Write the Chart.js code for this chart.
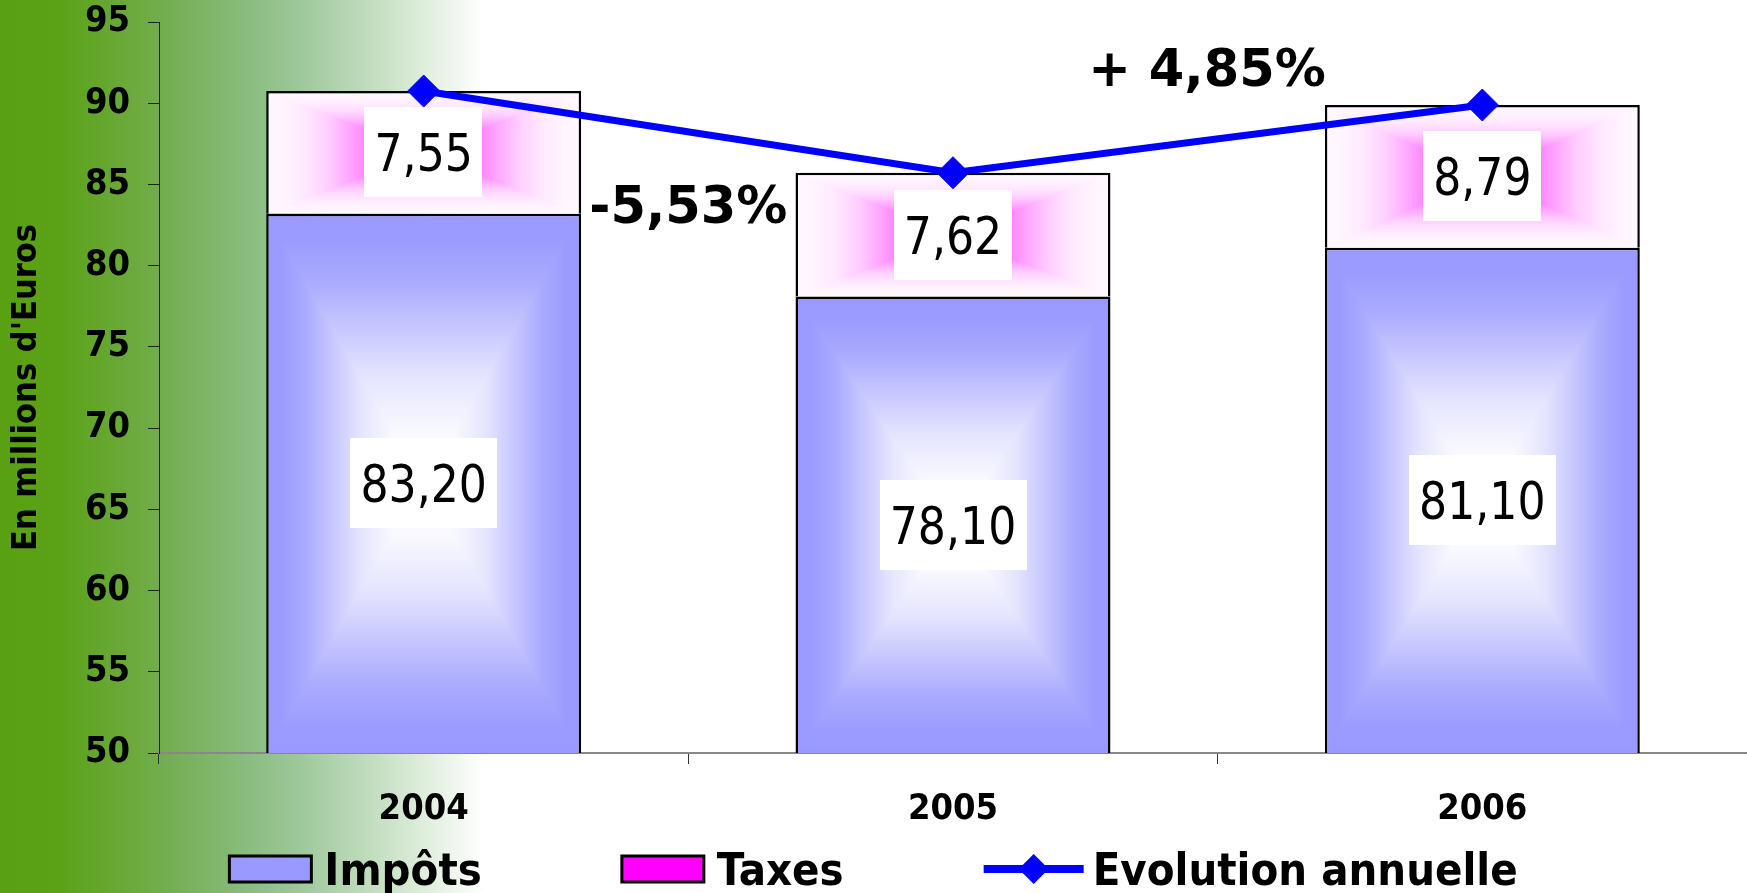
<!DOCTYPE html>
<html>
<head>
<meta charset="utf-8">
<script src="https://cdn.jsdelivr.net/npm/chart.js@4.4.1/dist/chart.umd.min.js"></script>
<style>
html, body { margin: 0; padding: 0; }
body {
    width: 1747px; height: 893px; overflow: hidden;
    background: linear-gradient(to right, #59a012 0px, #5ba217 60px, #72ad4c 160px, #8abd80 250px, #9ec89b 300px, #c6e0c3 380px, #e2f0e0 430px, #ffffff 485px);
}
</style>
</head>
<body>
<canvas id="myChart" width="1747" height="893"></canvas>
<script>
const categorias = ['2004', '2005', '2006'];
const impots = [83.20, 78.10, 81.10];
const taxes = [7.55, 7.62, 8.79];
const evolution = [90.75, 85.72, 89.89];
const yTicks = [50, 55, 60, 65, 70, 75, 80, 85, 90, 95];
const evolutionTextos = ['-5,53%', '+ 4,85%'];

const familiaCond = '"DejaVu Sans Condensed", "DejaVu Sans", sans-serif';
const familia = '"DejaVu Sans", sans-serif';
const anchoBarra = 0.595;

// degradado "desde el centro" (rectangular), paradas [t, r, g, b]
const paradasImpots = [[0, 255, 255, 255], [0.2, 248, 248, 255], [0.4, 228, 228, 255], [0.57, 200, 200, 255], [0.75, 170, 170, 255], [0.9, 155, 155, 255], [1, 153, 153, 255]];
const paradasTaxes = [[0, 255, 110, 255], [0.35, 255, 128, 255], [0.45, 255, 160, 255], [0.6, 255, 205, 255], [0.75, 255, 232, 255], [0.9, 255, 245, 255], [1, 255, 248, 255]];

function colorEn(paradas, t) {
    for (let k = 1; k < paradas.length; k++) {
        if (t <= paradas[k][0]) {
            const a = paradas[k - 1], b = paradas[k];
            const f = (t - a[0]) / (b[0] - a[0]);
            return [a[1] + (b[1] - a[1]) * f, a[2] + (b[2] - a[2]) * f, a[3] + (b[3] - a[3]) * f];
        }
    }
    const u = paradas[paradas.length - 1];
    return [u[1], u[2], u[3]];
}

function rellenoBarra(c, paradas, plano) {
    const chart = c.chart;
    const xs = chart.scales.x, ys = chart.scales.y;
    if (c.type !== 'data' || !xs || !ys || !chart.chartArea || !xs.width) return plano;
    const i = c.dataIndex;
    let desde = ys.min, hasta = impots[i];
    if (c.datasetIndex === 1) { desde = impots[i]; hasta = impots[i] + taxes[i]; }
    const cx = xs.getPixelForValue(i);
    const w = Math.max(2, Math.round(xs.width / categorias.length * anchoBarra));
    const top = ys.getPixelForValue(hasta);
    const bottom = Math.min(ys.getPixelForValue(desde), chart.chartArea.bottom);
    const h = Math.max(2, Math.round(bottom - top));
    const cv = document.createElement('canvas');
    cv.width = w; cv.height = h;
    const g = cv.getContext('2d');
    const img = g.createImageData(w, h);
    const hw = w / 2, hh = h / 2;
    for (let y = 0; y < h; y++) {
        for (let x = 0; x < w; x++) {
            const t = Math.min(1, Math.max(Math.abs(x + 0.5 - hw) / hw, Math.abs(y + 0.5 - hh) / hh));
            const col = colorEn(paradas, t);
            const p = (y * w + x) * 4;
            img.data[p] = col[0]; img.data[p + 1] = col[1]; img.data[p + 2] = col[2]; img.data[p + 3] = 255;
        }
    }
    g.putImageData(img, 0, 0);
    const pat = chart.ctx.createPattern(cv, 'repeat');
    pat.setTransform(new DOMMatrix([1, 0, 0, 1, Math.round(cx - w / 2), Math.round(top)]));
    return pat;
}

// etiquetas blancas sobre las barras
const etiquetas = {
    id: 'etiquetas',
    afterDatasetDraw(chart, args) {
        if (args.index !== 0) return;
        const ctx = chart.ctx;
        const area = chart.chartArea;
        const size = 52, comp = 0.85;
        [0, 1].forEach(d => {
            const meta = chart.getDatasetMeta(d);
            meta.data.forEach((bar, i) => {
                const p = bar.getProps(['x', 'y', 'base'], true);
                const top = Math.min(p.y, p.base);
                const bot = Math.min(Math.max(p.y, p.base), area.bottom);
                const cy = (top + bot) / 2;
                const txt = chart.data.datasets[d].data[i].toFixed(2).replace('.', ',');
                ctx.save();
                ctx.font = size + 'px ' + familia;
                const tw = ctx.measureText(txt).width * comp;
                ctx.fillStyle = '#ffffff';
                ctx.fillRect(Math.round(p.x - tw / 2 - 10), Math.round(cy - 45), Math.round(tw + 20), 90);
                ctx.translate(p.x, cy + 0.3645 * size);
                ctx.scale(comp, 1);
                ctx.fillStyle = '#000000';
                ctx.textAlign = 'center';
                ctx.textBaseline = 'alphabetic';
                ctx.fillText(txt, 0, 0);
                ctx.restore();
            });
        });
    }
};

// textos de evolución y leyenda
const extras = {
    id: 'extras',
    afterDraw(chart) {
        const ctx = chart.ctx;
        const xs = chart.scales.x, ys = chart.scales.y;
        const anclas = [[0.5, 83.8], [1.48, 92.2]];
        ctx.save();
        ctx.font = 'bold 51px ' + familia;
        ctx.fillStyle = '#000000';
        ctx.textAlign = 'center';
        ctx.textBaseline = 'alphabetic';
        evolutionTextos.forEach((t, k) => {
            ctx.fillText(t, xs.getPixelForValue(anclas[k][0]), ys.getPixelForValue(anclas[k][1]) + 0.3645 * 51);
        });
        ctx.restore();

        // leyenda
        const items = chart.data.datasets;
        const fs = 45, sep = 140, yc = 869;
        ctx.save();
        ctx.font = 'bold ' + fs + 'px ' + familiaCond;
        const anchos = items.map(ds => (ds.type === 'line' ? 109 : 95) + ctx.measureText(ds.label).width);
        let x = (chart.width - (anchos.reduce((a, b) => a + b, 0) + sep * (items.length - 1))) / 2;
        items.forEach((ds, k) => {
            let tx;
            if (ds.type === 'line') {
                ctx.strokeStyle = ds.borderColor;
                ctx.lineWidth = 8;
                ctx.beginPath(); ctx.moveTo(x, yc); ctx.lineTo(x + 100, yc); ctx.stroke();
                ctx.fillStyle = ds.borderColor;
                ctx.beginPath();
                ctx.moveTo(x + 50, yc - 15); ctx.lineTo(x + 65, yc); ctx.lineTo(x + 50, yc + 15); ctx.lineTo(x + 35, yc);
                ctx.closePath(); ctx.fill();
                tx = x + 109;
            } else {
                ctx.fillStyle = ds.colorLeyenda;
                ctx.fillRect(x, yc - 13, 82, 26);
                ctx.lineWidth = 3;
                ctx.strokeStyle = '#000000';
                ctx.strokeRect(x, yc - 13, 82, 26);
                tx = x + 95;
            }
            ctx.fillStyle = '#000000';
            ctx.textAlign = 'left';
            ctx.textBaseline = 'alphabetic';
            ctx.fillText(ds.label, tx, yc + 0.3645 * fs);
            x += anchos[k] + sep;
        });
        ctx.restore();
    }
};

const grafica = document.getElementById('myChart').getContext('2d');

const myChart = new Chart(grafica, {
    data: {
        labels: categorias,
        datasets: [
            {
                type: 'bar',
                label: 'Impôts',
                data: impots,
                colorLeyenda: '#9999ff',
                backgroundColor: c => rellenoBarra(c, paradasImpots, '#9999ff'),
                borderColor: '#000000',
                borderWidth: 2.5,
                categoryPercentage: 1,
                barPercentage: anchoBarra,
                order: 1
            },
            {
                type: 'bar',
                label: 'Taxes',
                data: taxes,
                colorLeyenda: '#ff00ff',
                backgroundColor: c => rellenoBarra(c, paradasTaxes, '#ffccff'),
                borderColor: '#000000',
                borderWidth: 2.5,
                categoryPercentage: 1,
                barPercentage: anchoBarra,
                order: 1
            },
            {
                type: 'line',
                label: 'Evolution annuelle',
                data: evolution,
                stack: 'evo',
                borderColor: '#0000ff',
                backgroundColor: '#0000ff',
                borderWidth: 7,
                pointStyle: 'rectRot',
                pointRadius: 16,
                pointBorderWidth: 1,
                pointBackgroundColor: '#0000ff',
                pointBorderColor: '#0000ff',
                tension: 0,
                order: 0
            }
        ]
    },
    options: {
        responsive: false,
        animation: false,
        layout: { autoPadding: false, padding: { left: 0, right: 0, top: 0, bottom: 60 } },
        plugins: {
            legend: { display: false },
            tooltip: { enabled: false }
        },
        scales: {
            x: {
                stacked: true,
                afterFit: s => { s.height = 80; s.paddingLeft = 0; s.paddingRight = 0; },
                border: { color: '#888888', width: 2 },
                grid: { offset: true, drawOnChartArea: false, drawTicks: true, tickLength: 11, color: '#333333' },
                ticks: { color: '#000000', padding: 24, font: { family: familiaCond, size: 36, weight: 'bold' } }
            },
            y: {
                stacked: true,
                min: 50,
                max: 95,
                afterFit: s => { s.width = 159; s.paddingTop = 22; s.paddingBottom = 0; },
                afterBuildTicks: s => { s.ticks = yTicks.map(v => ({ value: v })); },
                border: { color: '#222222', width: 1 },
                grid: { drawOnChartArea: false, drawTicks: true, tickLength: 11, color: '#222222' },
                ticks: { color: '#000000', padding: 18, font: { family: familiaCond, size: 36, weight: 'bold' } },
                title: {
                    display: true,
                    text: "En millions d'Euros",
                    color: '#000000',
                    padding: { top: 7, bottom: 0 },
                    font: { family: familiaCond, size: 34, weight: 'bold' }
                }
            }
        }
    },
    plugins: [etiquetas, extras]
});
</script>
</body>
</html>
